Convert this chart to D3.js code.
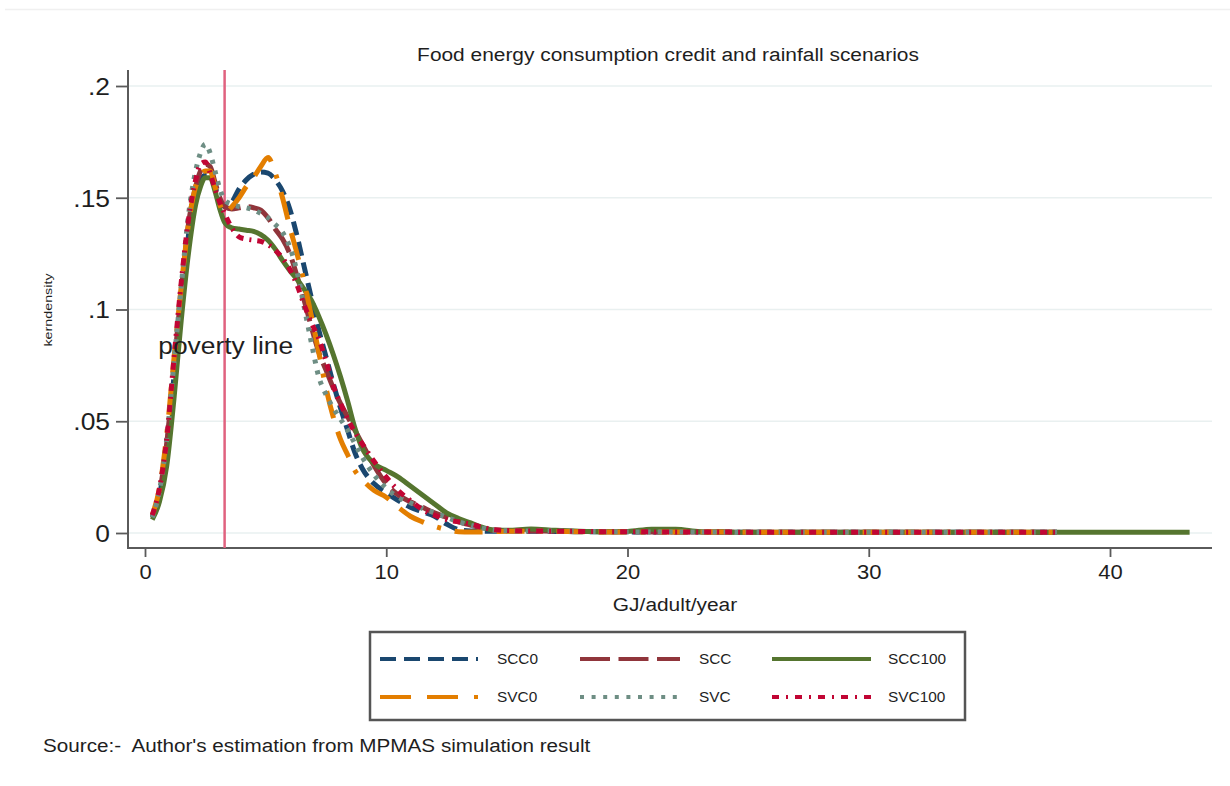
<!DOCTYPE html>
<html>
<head>
<meta charset="utf-8">
<script src="https://cdn.jsdelivr.net/npm/d3@7"></script>
<style>
  body { margin: 0; background: #fff; }
  text { font-family: "Liberation Sans", Arial, Helvetica, sans-serif; fill: #1e1e1e; white-space: pre; }
</style>
</head>
<body>
<svg id="chart" width="1230" height="786"></svg>
<script>
// GJ/adult/year grid the densities were read at
const gj = [0.3, 0.6, 0.9, 1.2, 1.5, 1.8, 2.1, 2.3, 2.5, 2.7, 2.9, 3.1, 3.3, 3.6, 3.9, 4.2, 4.5, 4.8, 5.1, 5.4,
  5.7, 6.0, 6.3, 6.6, 6.9, 7.2, 7.5, 7.8, 8.1, 8.4, 8.7, 9.0, 9.5, 10, 10.5, 11, 11.5, 12, 12.5, 13, 13.5, 14, 14.5,
  15, 16, 17, 18, 19, 20, 21, 22, 23, 24, 26, 28, 30, 32, 34, 36, 37.8, 40, 42, 43.3];

const scc0 = [0.007, 0.017, 0.038, 0.070, 0.104, 0.133, 0.152, 0.158, 0.160, 0.160, 0.155, 0.149, 0.146, 0.148,
  0.154, 0.158, 0.1605, 0.1615, 0.161, 0.158, 0.153, 0.145, 0.133, 0.119, 0.105, 0.091, 0.079, 0.067, 0.056, 0.046,
  0.036, 0.029, 0.022, 0.018, 0.0145, 0.0115, 0.0095, 0.0075, 0.004, 0.0015, 0.0009, 0.0008, 0.0008,
  0.0009, 0.0008, 0.0007, 0.0006, 0.0006, 0.0005, 0.0005, 0.0004, 0.0004, 0.0004, 0.0003, 0.0003, 0.0003, 0.0003,
  0.0003, 0.0003, 0.0003, null, null, null];
const scc = [0.007, 0.018, 0.040, 0.074, 0.108, 0.138, 0.155, 0.162, 0.165, 0.164, 0.157, 0.150, 0.146, 0.145,
  0.1455, 0.146, 0.1455, 0.1445, 0.141, 0.136, 0.1315, 0.125, 0.115, 0.104, 0.092, 0.081, 0.073, 0.065, 0.058, 0.052,
  0.046, 0.040, 0.030, 0.022, 0.017, 0.014, 0.0115, 0.009, 0.007, 0.005, 0.0035, 0.002, 0.0012,
  0.0011, 0.0009, 0.0008, 0.0007, 0.0006, 0.0006, 0.0005, 0.0005, 0.0004, 0.0004, 0.0003, 0.0003, 0.0003, 0.0003,
  0.0003, 0.0003, 0.0003, null, null, null];
const scc100 = [0.006, 0.014, 0.030, 0.060, 0.095, 0.125, 0.147, 0.155, 0.159, 0.159, 0.153, 0.145, 0.139, 0.1365,
  0.136, 0.1355, 0.135, 0.1335, 0.131, 0.127, 0.122, 0.1175, 0.1135, 0.109, 0.104, 0.097, 0.089, 0.080, 0.070, 0.059,
  0.047, 0.038, 0.031, 0.028, 0.025, 0.021, 0.017, 0.013, 0.009, 0.0065, 0.0045, 0.0025, 0.0013,
  0.0012, 0.0018, 0.0012, 0.0008, 0.0006, 0.0007, 0.0017, 0.0017, 0.0006, 0.0004, 0.0003, 0.0003, 0.0003, 0.0003,
  0.0003, 0.0003, 0.0003, 0.0003, 0.0003, 0.0003];
const svc0 = [0.008, 0.020, 0.044, 0.078, 0.110, 0.138, 0.155, 0.160, 0.162, 0.162, 0.155, 0.147, 0.143, 0.146,
  0.150, 0.155, 0.159, 0.164, 0.168, 0.161, 0.150, 0.137, 0.125, 0.112, 0.097, 0.081, 0.065, 0.052, 0.042, 0.035,
  0.028, 0.024, 0.019, 0.016, 0.0115, 0.0075, 0.005, 0.003, 0.0015, 0.0006, 0.0005, 0.0005, 0.0006,
  0.0008, 0.0008, 0.0007, 0.0006, 0.0005, 0.0005, 0.0005, 0.0004, 0.0004, 0.0004, 0.0003, 0.0003, 0.0003, 0.0003,
  0.0003, 0.0003, 0.0003, null, null, null];
const svc = [0.007, 0.019, 0.042, 0.076, 0.110, 0.142, 0.162, 0.170, 0.174, 0.170, 0.162, 0.154, 0.149, 0.147,
  0.146, 0.1455, 0.1445, 0.143, 0.141, 0.138, 0.1345, 0.128, 0.117, 0.101, 0.085, 0.070, 0.062, 0.056, 0.051, 0.046,
  0.040, 0.034, 0.026, 0.020, 0.016, 0.0135, 0.011, 0.009, 0.007, 0.005, 0.0035, 0.0022, 0.0012,
  0.001, 0.0009, 0.0009, 0.0007, 0.0006, 0.0005, 0.0005, 0.0005, 0.0004, 0.0004, 0.0003, 0.0003, 0.0003, 0.0003,
  0.0003, 0.0003, 0.0003, null, null, null];
const svc100 = [0.008, 0.020, 0.042, 0.078, 0.112, 0.140, 0.158, 0.165, 0.166, 0.161, 0.154, 0.148, 0.143, 0.1365,
  0.1325, 0.1315, 0.131, 0.1305, 0.129, 0.1265, 0.123, 0.118, 0.111, 0.102, 0.094, 0.087, 0.077, 0.066, 0.058, 0.051,
  0.045, 0.040, 0.032, 0.025, 0.019, 0.0145, 0.0105, 0.008, 0.006, 0.005, 0.004, 0.0025, 0.0015,
  0.0011, 0.0009, 0.0008, 0.0007, 0.0006, 0.0006, 0.0005, 0.0005, 0.0004, 0.0004, 0.0003, 0.0003, 0.0003, 0.0003,
  0.0003, 0.0003, 0.0003, null, null, null];

const seriesNames = ["SCC0", "SCC", "SCC100", "SVC0", "SVC", "SVC100"];
const seriesValues = [scc0, scc, scc100, svc0, svc, svc100];

const xTicks = [0, 10, 20, 30, 40];
const yTicks = [0, 0.05, 0.1, 0.15, 0.2];
const yTickLabels = ["0", ".05", ".1", ".15", ".2"];
const povertyLine = 3.3;

// stata s2color palette + line patterns, same order as seriesNames
const colors = ["#1a476f", "#90353b", "#55752f", "#e37e00", "#6e8e84", "#c10534"];
const plotDash = ["14,7", "28,8", null, "28,14,28,14,4,14", "4,7", "7,6,2,6"];
const legendDash = ["16,8", "30,8.5", null, "31,16,31,16,4,16", "4,7.6", "7,7,2,7"];

const SX = 1.1; // the export is a bit wider than tall, text looks stretched
const frame = {left: 128, right: 1212, top: 70, bottom: 548};

const svg = d3.select("#chart");
svg.append("rect").attr("width", 1230).attr("height", 786).attr("fill", "#fff");
svg.append("line").attr("x1", 5).attr("x2", 1230).attr("y1", 9.5).attr("y2", 9.5)
  .attr("stroke", "#f0f0f0").attr("stroke-width", 1.5);

const x = d3.scaleLinear().domain([0, 40]).range([145, 1110]);
const y = d3.scaleLinear().domain([0, 0.2]).range([533, 86]);

function label(txt, px, py, size, anchor) {
  return svg.append("text")
    .attr("transform", `translate(${px},${py}) scale(${SX},1)`)
    .attr("text-anchor", anchor || "start")
    .style("font-size", size + "px")
    .text(txt);
}

// grid lines
svg.append("g").selectAll("line").data(yTicks).enter().append("line")
  .attr("x1", frame.left).attr("x2", frame.right)
  .attr("y1", d => y(d)).attr("y2", d => y(d))
  .attr("stroke", "#e9f0f0").attr("stroke-width", 1.6);

// axes
const yAxis = svg.append("g")
  .attr("transform", `translate(${frame.left},0)`)
  .call(d3.axisLeft(y).tickValues(yTicks).tickSize(12).tickPadding(6)
    .tickFormat((d, i) => yTickLabels[i]));
yAxis.select(".domain").remove();
yAxis.selectAll(".tick line").attr("stroke", "#5a5a5a").attr("stroke-width", 1.8);
yAxis.selectAll(".tick text").attr("x", null).attr("dy", "0.35em")
  .attr("transform", `translate(-18,0) scale(${SX},1)`)
  .style("font-size", "24px").attr("fill", "#1e1e1e");

const xAxis = svg.append("g")
  .attr("transform", `translate(0,${frame.bottom})`)
  .call(d3.axisBottom(x).tickValues(xTicks).tickSize(9).tickPadding(8));
xAxis.select(".domain").remove();
xAxis.selectAll(".tick line").attr("stroke", "#5a5a5a").attr("stroke-width", 1.8);
xAxis.selectAll(".tick text").attr("transform", `scale(${SX},1)`)
  .style("font-size", "20px").attr("fill", "#1e1e1e");

svg.append("path")
  .attr("d", `M${frame.left},${frame.top}V${frame.bottom}H${frame.right}`)
  .attr("fill", "none").attr("stroke", "#5a5a5a").attr("stroke-width", 2);

// poverty line
svg.append("line")
  .attr("x1", x(povertyLine)).attr("x2", x(povertyLine))
  .attr("y1", frame.top).attr("y2", frame.bottom)
  .attr("stroke", "#e0627f").attr("stroke-width", 2.5);

// densities
const line = d3.line()
  .defined(d => d[1] != null)
  .x(d => x(d[0]))
  .y(d => y(d[1]))
  .curve(d3.curveMonotoneX);

seriesValues.forEach((vals, i) => {
  svg.append("path")
    .datum(gj.map((g, j) => [g, vals[j]]))
    .attr("d", line)
    .attr("fill", "none")
    .attr("stroke", colors[i])
    .attr("stroke-width", 5)
    .attr("stroke-dasharray", plotDash[i]);
});

label("poverty line", x(0.55), y(0.08), 24);

// titles
label("Food energy consumption credit and rainfall scenarios", 668, 61, 19, "middle");
label("GJ/adult/year", 675, 611, 19, "middle");
svg.append("text")
  .attr("transform", "translate(52,310) rotate(-90) scale(1.3,1)")
  .attr("text-anchor", "middle")
  .style("font-size", "11px")
  .text("kerndensity");

// legend
const legend = svg.append("g");
legend.append("rect").attr("x", 370).attr("y", 632).attr("width", 595).attr("height", 88)
  .attr("fill", "#fff").attr("stroke", "#555").attr("stroke-width", 2.5);
const keyX = [[380, 478], [580, 680], [772, 871]];
const labelX = [497, 699, 888];
const rowY = [659, 697];
seriesNames.forEach((name, i) => {
  const col = i % 3, row = Math.floor(i / 3);
  legend.append("line")
    .attr("x1", keyX[col][0]).attr("x2", keyX[col][1])
    .attr("y1", rowY[row]).attr("y2", rowY[row])
    .attr("stroke", colors[i]).attr("stroke-width", 4)
    .attr("stroke-dasharray", legendDash[i]);
  label(name, labelX[col], rowY[row] + 5, 14).attr("fill", "#333");
});

label("Source:-  Author's estimation from MPMAS simulation result", 43, 752, 18.8);
</script>
</body>
</html>
